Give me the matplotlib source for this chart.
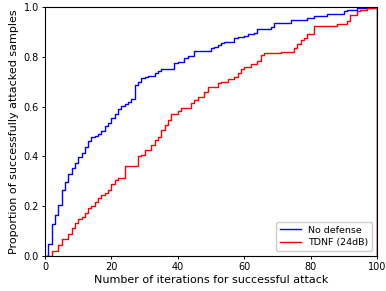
import matplotlib
matplotlib.use("Agg")
import matplotlib.pyplot as plt

blue_iter = [0, 1, 2, 3, 4, 5, 6, 7, 8, 9, 10, 11, 12, 13, 14, 15, 16, 17, 18, 19, 20,
             21, 22, 23, 24, 25, 26, 27, 28, 29, 30, 31, 33, 34, 35, 39, 40, 42, 43, 45,
             50, 51, 52, 53, 54, 57, 58, 60, 61, 63, 64, 68, 69, 74, 79, 81, 85, 90, 91,
             94, 99]
blue_prop = [0, 0.048, 0.128, 0.166, 0.205, 0.265, 0.298, 0.328, 0.352, 0.375, 0.396,
             0.415, 0.439, 0.463, 0.477, 0.483, 0.49, 0.503, 0.522, 0.533, 0.556,
             0.569, 0.589, 0.604, 0.61, 0.617, 0.63, 0.686, 0.699, 0.714, 0.718, 0.723,
             0.736, 0.744, 0.752, 0.774, 0.778, 0.794, 0.803, 0.823,
             0.834, 0.841, 0.847, 0.854, 0.858, 0.874, 0.878, 0.884, 0.89, 0.897, 0.91,
             0.921, 0.934, 0.947, 0.956, 0.965, 0.973, 0.983, 0.989, 0.996, 1.0]

red_iter = [0, 2, 4, 5, 7, 8, 9, 10, 11, 12, 13, 14, 15, 16, 17, 18, 19, 20, 21, 22, 24,
            28, 29, 30, 32, 33, 34, 35, 36, 37, 38, 40, 41, 44, 45, 46, 48, 49, 52, 53,
            55, 57, 58, 59, 60, 62, 64, 65, 66, 71, 75, 76, 77, 78, 79, 81, 88, 91, 92,
            94, 95, 97, 100]
red_prop = [0, 0.021, 0.046, 0.07, 0.088, 0.111, 0.131, 0.149, 0.157, 0.171, 0.191,
            0.202, 0.216, 0.234, 0.243, 0.252, 0.265, 0.29, 0.305, 0.312, 0.361,
            0.40, 0.406, 0.426, 0.446, 0.466, 0.479, 0.506, 0.526, 0.546, 0.57, 0.582,
            0.593, 0.613, 0.627, 0.637, 0.66, 0.677, 0.693, 0.70,
            0.71, 0.72, 0.734, 0.75, 0.757, 0.77, 0.784, 0.807, 0.814, 0.82, 0.834,
            0.85, 0.867, 0.876, 0.893, 0.922, 0.933, 0.945, 0.968, 0.983, 0.989,
            0.995, 1.0]

labels = ["No defense", "TDNF (24dB)"]
x_max = 100

fig = plt.figure(figsize=(3.86, 2.91), dpi=100)
ax = fig.add_axes([0.1166, 0.1203, 0.8601, 0.8557])

for xs, ys, c, lab in [(blue_iter, blue_prop, "blue", labels[0]),
                       (red_iter, red_prop, "red", labels[1])]:
    # histogram-like step outline, closed at the right edge
    X = list(xs) + [x_max, x_max]
    Y = list(ys) + [ys[-1], 0]
    ax.step(X, Y, where="post", color=c, lw=1.0, label=lab)

ax.set_xlim(0, 100)
ax.set_ylim(0, 1.0)
ax.set_xticks([0, 20, 40, 60, 80, 100])
ax.set_yticks([0, 0.2, 0.4, 0.6, 0.8, 1.0])
ax.set_yticklabels(["0.0", "0.2", "0.4", "0.6", "0.8", "1.0"])
ax.tick_params(labelsize=7, length=2.5, width=0.7, pad=2)
for s in ax.spines.values():
    s.set_linewidth(0.8)
ax.set_xlabel("Number of iterations for successful attack", fontsize=8, labelpad=2)
ax.set_ylabel("Proportion of successfully attacked samples", fontsize=8, labelpad=3)
ax.legend(loc="lower right", fontsize=6.8, handlelength=2.2, borderpad=0.4,
          labelspacing=0.4, framealpha=1.0)

fig.savefig("out.png", dpi=100)
